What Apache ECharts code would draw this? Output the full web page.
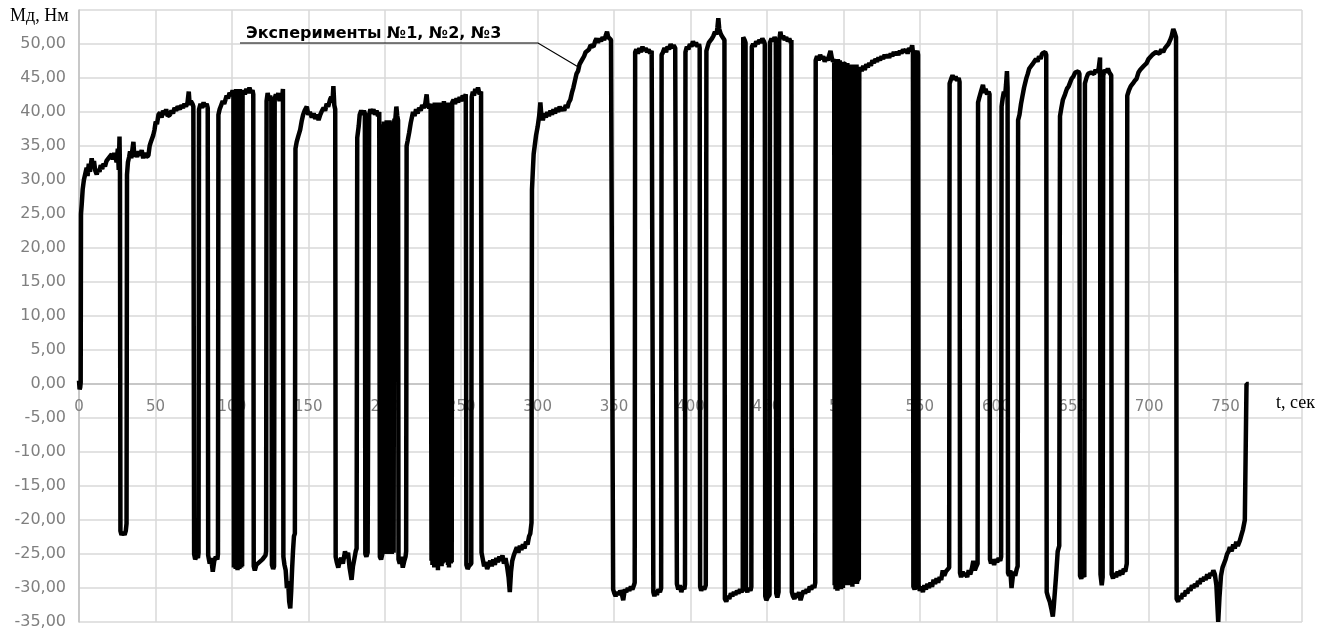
<!DOCTYPE html>
<html>
<head>
<meta charset="utf-8">
<script src="https://cdn.jsdelivr.net/npm/echarts@6/dist/echarts.min.js"></script>
<style>
  html, body { margin: 0; padding: 0; background: #ffffff; }
  #chart { width: 1336px; height: 633px; }
</style>
</head>
<body>
<div id="chart"></div>
<script>
// Torque Мд (Н·м) versus time t (s), recorded as [t, M] pairs, split by time window
const run0to150 = [
  [0,0.5],[0.4,-0.8],[0.8,-0.5],[1.1,0.2],[1.3,25],[1.8,26.5],[2.4,28.6],[3.2,30],[4,30.8],[5,31.8],[5.6,30.6],[6.4,32.4],
  [7.2,31.2],[8.3,33.2],[9,32],[9.8,32.8],[10.6,31.4],[11.6,30.8],[12.5,31.6],[13.4,31.2],[14.2,32.2],[15.2,31.6],[16,32.4],
  [17,32],[18,32.8],[19,32.6],[20,33.4],[21.4,33.8],[22.2,33],[23,34],[24,33.2],[24.6,32.6],[25.4,34.6],[26,31.5],[26.5,36.4],
  [26.8,31],[27.1,-21.6],[27.8,-22.2],[28.8,-21.8],[29.8,-22.2],[30.6,-21.6],[31.1,-20.5],[31.4,30.8],[32,32.6],[32.8,33.4],
  [33.4,34.2],[34.2,33.2],[35,34.6],[35.6,35.6],[36.2,33.4],[37,34],[38,33.4],[39,34.2],[40,33.6],[41,34.4],[42,33.2],[43,34],
  [44,33.4],[45.4,33.6],[46.2,35],[47,35.6],[48.6,36.6],[49.4,37.4],[50.2,38.6],[51,38.2],[52,39.6],[53,39.9],[54,39.2],
  [55,40.2],[56,39.6],[57,40.4],[58,39.4],[59.5,39.6],[60.5,40.2],[61.5,39.8],[62.5,40.6],[63.5,40.2],[64.5,40.8],[66,40.4],
  [67,41],[68,40.6],[69,41.2],[70,40.8],[71,41.4],[71.8,43],[72.4,41],[73.2,41.6],[74.2,41.2],[74.8,40.8],
  [75,40.6],[75.3,-25],[76,-25.8],[77,-25.2],[77.8,-25.6],[78.2,-24.8],[78.5,40.4],[79.5,41.2],[80.5,40.6],[81.5,41.4],
  [82.5,40.8],[83.5,41.2],[84.2,40.6],[84.5,-25.2],[85.5,-26.4],[86.5,-25.6],[87.5,-27.6],[88.5,-26],[89.5,-25.4],[90.5,-25.8],
  [90.9,-25],[91.2,39.6],[92,40.4],[93,41],[94,41.6],[95,41.2],[96.6,42.4],[97.5,42],[98.5,42.8],[99.5,42.4],[100.5,43.2],
  [101,42.8],[101.3,-27],[101.6,43.2],[101.9,-26.8],[102.2,43],[102.5,-27.2],[102.8,43.4],[103.1,-27],[103.4,42.8],[103.7,-27.4],
  [104,43.2],[104.3,-26.8],[104.6,43],[104.9,-27.2],[105.2,43.4],[105.5,-26.6],[105.8,42.8],[106.1,-27],[106.4,43],[106.7,-26.8],
  [107,42.8],
  [107.5,43.2],[108.5,42.6],[109.5,43.4],[110.5,42.8],[111.5,43.6],[112.5,42.8],[113.5,43.2],[114,42.6],[114.3,-26.8],[115,-27.4],
  [116,-26.6],[117,-26.8],[118,-26.2],[119,-26.4],[120,-25.8],[121,-26],[122,-25.2],[122.4,-24.6],[122.7,41.6],[123.4,42.8],
  [124.2,41.8],[125,42.4],[125.8,41.6],[126.2,-26.6],[127,-27.2],[127.6,-26.8],[128,42],[128.8,42.6],[129.6,41.8],[130.4,42.8],
  [131.2,41.6],[132,42.4],[132.8,41.8],[133.4,43.4],[133.7,-25.4],[134.4,-26.6],[135.2,-27.4],[136,-30],[136.8,-29],[137.5,-32],
  [138.2,-33],[138.8,-30.5],[139.4,-27.2],[140,-24.5],[140.6,-22.4],[141.2,-22],[141.6,34.6],[142.4,35.6],[143.4,36.4],
  [144.7,37.4],[145.6,38.6],[146.6,39.6],[147.6,40.2],[149,40.8]
];

const run150to300 = [
  [150,39.6],[151,40],[152.3,39.2],[153.5,39.8],[154.5,39],[155.6,39.6],[156.7,38.8],[157.8,39.6],[159,40.2],[160,40.6],
  [161,40.2],[162,41.2],[163,40.8],[164.2,41.8],[165,42.2],[165.8,41.4],[166.4,43.8],[167,41],[167.6,40.4],[167.9,-25.4],
  [168.6,-26.2],[169.6,-27],[170.6,-26],[171.6,-25.6],[172.6,-26.4],[174,-24.6],[175,-25.6],[176,-24.8],[177,-27],[178.3,-28.8],
  [179.2,-26.8],[180.2,-25.6],[181,-24.6],[181.6,-24.2],[182,36.2],[183,38],[183.6,39.6],[184.6,40.2],[185.6,39.6],[186.4,40.2],
  [187,39.8],[187.3,-25],[188,-25.4],[188.8,-24.8],[189.4,-25],[189.8,39.6],[190.6,40.4],[191.6,39.8],[192.6,40.4],[193.6,39.6],
  [194.6,40.2],[195.6,39.4],[196.4,40],[196.8,-25.4],[197.6,-25.8],[198.6,-24.8],
  [198.9,38.2],[199.2,-24.6],[199.5,38.6],[199.8,-25],[200.1,38.4],[200.4,-24.4],[200.7,38],[201,-24.8],[201.3,38.8],
  [201.6,-24.6],[201.9,38.2],[202.2,-25],[202.5,38.4],[202.8,-24.4],[203.1,38.8],[203.4,-24.8],[203.7,38.2],[204,-24.6],
  [204.3,38.6],[204.6,-25],[204.9,38.4],[205.2,-24.4],[205.5,38],[205.8,-24.8],[206.1,38.4],
  [206.4,39],[206.8,38.6],[207.6,40.8],[208.2,39.4],[208.7,38.8],[209,-25.8],[209.8,-26.4],[210.8,-25.4],[211.8,-27],[212.8,-26],
  [213.6,-25.4],[214,-24.6],[214.3,35],[215,35.8],[216,37],[217,38.4],[218.5,40],[219.5,39.4],[220.5,40.4],[221.5,39.8],
  [222.5,40.6],[223.5,40.2],[224.5,41],[225.5,40.6],[226.5,41.2],[227.4,42.6],[228,41],[229,40.6],[230,41.2],
  [230.3,41],[230.6,-26],[230.9,41.2],[231.2,-26.6],[231.5,40.8],[231.8,-26.4],[232.1,41],[232.4,-27],[232.7,41.4],[233,-25.8],
  [233.3,40.8],[233.6,-26.4],[233.9,41.2],[234.2,-26.8],[234.5,41.4],[234.8,-27.4],[235.1,40.8],[235.4,-26.2],[235.7,41],
  [236,-26.6],[236.3,41.4],[236.6,-26],[236.9,41.2],[237.2,-26.8],[237.5,40.6],[237.8,-26.4],[238.1,41],[238.4,-25.8],
  [238.7,41.6],[239,-25.6],[239.3,41.2],[239.6,-26.2],[239.9,40.8],[240.2,-25.8],[240.5,41.4],[240.8,-26.2],[241.1,41],
  [241.4,-26.6],[241.7,40.8],[242,-27],[242.3,41.2],[242.6,-26],[242.9,41.4],[243.2,-26.4],[243.5,41],[243.8,-26.2],[244.1,41.4],
  [245,41.8],[246,41.2],[247,42],[248,41.4],[249,42.2],[250,41.6],[251,42.4],[252,42],[253,42.6],[253.4,-26.6],[254.2,-27.2],
  [255,-26.8],[256,-27],[256.6,-26.4],[256.9,42.2],[257.6,43],[258.4,42.4],[259.2,43.4],[260,42.8],[261,43.6],[262,42.6],[263,43],
  [263.3,-24.8],[264,-25.6],[265,-26.8],[266,-26.2],[267,-27.2],[268,-26.6],[269,-26],[270,-26.8],[271,-25.8],[272,-26.6],
  [273,-25.6],[274,-26.2],[275,-25.4],[276,-26],[277,-25.2],[278,-26.4],[279,-25.6],[280,-26.8],[281,-28.4],[281.8,-30.6],
  [282.6,-27.6],[283.4,-26],[284.4,-25.2],[285.4,-24.6],[286.4,-24],[287.4,-24.8],[288.4,-23.8],[289.4,-24.4],[290.4,-23.6],
  [291.4,-24.2],[292.4,-23.2],[293.4,-23.6],[294.4,-22.4],[295.2,-22],[296,-20.4],[296.3,28.6],[296.8,31],[297.4,33.8],
  [298.2,35.2],[299,36.6]
];

const run300to450 = [
  [300,37.8],[301,39.4],[301.8,41.4],[302.4,39.6],[303.4,38.8],[304.4,39.8],[305.4,39.2],[306.4,40],[307.4,39.4],[308.4,40.2],
  [309.4,39.6],[310.4,40.4],[311.4,39.8],[312.4,40.6],[313.4,40],[314.4,40.8],[315.4,40.2],[316.4,40.6],[317.4,40.2],[318.4,41],
  [319.4,40.6],[320.4,41.4],[321.4,41.8],[322.4,42.8],[323.4,43.6],[324.4,44.6],[325.4,45.6],[326.4,46],[327.4,47],[328.4,46.8],
  [329.4,47.8],[330.4,48.2],[331.4,48.8],[332.4,48.6],[333.6,49.2],[334.6,49.8],[335.6,50],[336.6,49.6],[337.6,50.4],[338.5,50.8],
  [339.5,50.2],[340.5,50.8],[341.5,50.4],[342.5,51],[343.5,50.6],[344.5,51.2],[345.4,51.8],[346.2,51],[347,50.8],[348,50.6],
  [349,50.4],[349.4,-30.2],[350.2,-30.8],[351,-31.2],[352,-30.6],[353,-31],[354,-30.4],[355,-30.8],[356,-31.8],[357,-30.2],
  [358,-30.6],[359,-30],[360,-30.4],[361,-29.8],[362,-30.2],[363,-29.6],[363.5,-29.2],[363.8,48.8],[364.6,49.2],[365.6,48.6],
  [366.6,49.4],[367.6,48.8],[368.6,49.6],[369.6,49],[370.6,49.4],[371.6,48.8],[372.6,49.2],[373.6,48.6],[374.6,49],[375.4,48.8],
  [375.7,-30.6],[376.4,-31.2],[377.2,-30.4],[378,-31],[379,-30.2],[380,-30.6],[380.8,-30],[381.1,48.4],[382,48.8],[383,49.4],
  [384,48.8],[385,49.6],[386,49.2],[387,50],[388,49.4],[389,49.8],[390,49.4],[390.8,49.6],[391.1,-29.4],[392,-30.2],[393,-29.6],
  [394,-30.6],[395,-29.8],[396,-30.2],[396.4,-29.4],[396.7,48.8],[397.6,49.6],[398.6,49.2],[399.6,50],[400.6,49.6],[401.6,50.4],
  [402.6,49.8],[403.6,50.2],[404.6,49.6],[405.6,50],[406,49.4],[406.3,-29.8],[407,-30.4],[408,-29.8],[409,-30.2],[410,-29.6],
  [410.4,49],[411.2,49.6],[412,50.2],[413,50],[414,50.8],[415,51.2],[416,51.8],[417,51.4],[417.6,52.4],[418.2,53.8],[418.8,52.2],
  [419.6,51.6],[420.4,51.2],[421.4,51],[422.2,50.6],[422.5,-31.6],[423.4,-32],[424.4,-31.2],[425.4,-31.6],[426.4,-30.8],
  [427.4,-31.2],[428.4,-30.6],[429.4,-31],[430.4,-30.4],[431.4,-30.8],[432.4,-30.2],[433.4,-30.6],[434.2,-30.2],[434.5,51],
  [435.4,50.6],[436,50.2],[436.3,-30.2],[437.2,-30.6],[438.2,-30],[439.2,-30.4],[439.8,-29.8],[440.1,49.6],[441,50],[442,49.6],
  [443,50.4],[444,50],[445,50.6],[446,50.2],[447,50.8],[448,50.4],[448.6,50],[448.9,-31.2],[449.6,-31.8]
];

const run450to600 = [
  [450.4,-31.4],[451.2,-31.6],[451.7,-31],[452,50.2],[453,50.8],[454,50.4],[455,51],[455.8,50.6],[456.1,-30.8],[456.8,-31.4],
  [457.6,-30.6],[458,50.4],[458.8,51.8],[459.6,50.8],[460.6,51.2],[461.6,50.6],[462.6,51],[463.6,50.4],[464.6,50.8],[465.6,50.2],
  [466,50.6],[466.3,-30.6],[467,-31.2],[468,-31.6],[469,-30.8],[470,-31.4],[471,-30.6],[472,-31.8],[473,-31],[474,-30.4],
  [475,-30.8],[476,-30.2],[477,-30.6],[478,-29.8],[479,-30.2],[480,-29.6],[481,-30],[481.6,-29.2],[481.9,47.6],[482.8,48.2],
  [483.8,47.6],[484.8,48.4],[485.8,47.8],[486.8,48.2],[487.8,47.4],[488.8,48],[489.8,47.6],[490.8,48.4],[491.6,49],[492.4,48],
  [493.2,47.4],[494,47.8],
  [494.3,-29.6],[494.6,47.6],[494.9,-30.2],[495.2,47.2],[495.5,-29.8],[495.8,47.4],[496.1,-30.4],[496.4,47.8],[496.7,-30],
  [497,47],[497.3,-29.4],[497.6,47.6],[497.9,-29.6],[498.2,46.8],[498.5,-30.2],[498.8,47.2],[499.1,-29.8],[499.4,47.4],
  [499.7,-30],[500,47.2],[500.4,47],
  [501.4,47],[501.7,-29.2],[502,46.8],[502.3,-29.6],[502.6,47.2],[502.9,-29],[503.2,46.6],[503.5,-29.6],[503.8,47],[504.1,-29.4],
  [504.4,46.8],[504.7,-29],[505,46.4],[505.3,-29.2],[505.6,46.6],[505.9,-29.8],[506.2,47],[506.5,-29],[506.8,46.4],[507.1,-29.4],
  [507.4,46.8],[507.7,-29.2],[508,46.6],[508.3,-28.8],[508.6,47],[508.9,-29.4],[509.2,46.6],[509.5,-29],[509.8,46.2],[510.1,-28.8],
  [510.4,45.8],
  [511.2,46.6],[512,46],[513,46.8],[514,46.2],[515,47],[516,46.6],[517,47.2],[518,46.8],[519,47.6],[520,47.2],[521,47.8],
  [522,47.4],[523,48],[524,47.6],[525,48.2],[526,47.8],[527,48.4],[528,48],[529,48.4],[530,48],[531,48.6],[532,48.2],[533,48.8],
  [534,48.4],[535,48.8],[536,48.4],[537,49],[538,48.6],[539,49.2],[540,48.8],[541,49.2],[542,48.6],[543,49.4],[544,49],
  [545,49.8],[545.5,48.8],[545.8,-29.8],[546.6,-30.2],[547.4,-29.6],[547.8,48.6],[548.4,49],[548.9,48.4],[549.2,-29.6],
  [550,-30.4],[551,-29.8],[552,-30.6],[553,-29.6],[554,-30.2],[555,-29.4],[556,-30],[557,-29.2],[558,-29.8],[559,-28.8],
  [560,-29.4],[561,-28.6],[562,-29.2],[563,-28.4],[564,-28.8],[565,-27.4],[566,-28.2],[567,-27.6],[568,-27.8],[569.2,-27],
  [569.5,44.2],[570.4,44.8],[571.4,45.4],[572.4,44.8],[573.4,45.2],[574.4,44.6],[575.4,45],[576,44.4],[576.3,-27.8],[577,-28.4],
  [578,-27.6],[579,-28.2],[580,-27.8],[581,-28.4],[582,-27.4],[583,-28],[584,-27.2],[585,-26],[586,-27.4],[587,-26.8],
  [587.8,-26.4],[588.1,41.4],[589,42.2],[590,43],[591.3,44],[592.2,42.8],[593,43.4],[594,42.6],[595,43],[595.6,42.6],
  [595.9,-25.8],[596.6,-26.4],[597.6,-25.8],[598.6,-26.6],[599.6,-25.8]
];

const run600to766 = [
  [600.6,-26.2],[601.6,-25.6],[602.6,-26],[603.2,-25.4],[603.5,40.8],[604.2,42],[605,43],[605.8,42.4],[606.4,44],[607,46],
  [607.4,43.6],[607.7,-27.8],[608.4,-28.2],[609.2,-27.4],[610,-30],[610.8,-28.4],[611.6,-27.6],[612.4,-28.2],[613.4,-27.2],
  [614,-26.8],[614.3,38.8],[615.2,39.6],[616.2,41.2],[617.2,42.4],[618.2,43.6],[619.6,44.9],[620.6,45.6],[621.6,46.4],
  [622.6,46.2],[623.6,47],[624.6,46.8],[626,47.8],[627,47.4],[628,48.2],[629,47.8],[630,48.6],[631,48.4],[632,48.8],[632.7,48.4],
  [633,-30.6],[634,-31.4],[635,-32],[636,-33],[637,-34.2],[637.6,-32.8],[638.4,-30.4],[639,-28.6],[639.5,-27],[640.2,-24.6],
  [641.2,-23.8],[641.7,39.4],[642.6,40.6],[643.6,41.8],[645,42.6],[646.2,43.4],[647.4,43.8],[649.3,44.9],[650.4,45.2],
  [651.6,45.8],[652.6,45.6],[653.7,46],[654.4,45.6],[654.8,-28.2],[655.6,-28.6],[656.6,-28],[657.6,-28.4],[658,44.2],[659,45],
  [660,45.6],[661,45.4],[662,45.8],[663,46],[664,45.6],[665,46.2],[666,45.8],[667,46.4],[667.9,48],[668.2,-28],[669,-29.6],
  [669.6,-28.4],[670,45.4],[671,46.2],[672,45.8],[673,46.4],[674,45.8],[675.2,45.4],[675.5,-28],[676.4,-28.6],[677.4,-27.8],
  [678.4,-28.4],[679.4,-27.6],[680.4,-28.2],[681.4,-27.4],[682.4,-28],[683.4,-27.2],[684.4,-27.6],[685.4,-26.4],[685.7,42.4],
  [686.8,43.2],[688,43.8],[689.4,44.2],[690.6,44.6],[691.8,44.9],[693,45.8],[694.2,46.2],[695.4,46],[696.6,46.8],[698.4,47.2],
  [699.6,47.8],[700.8,48],[702,48.4],[703.2,48.2],[704.4,48.8],[705.6,49],[706.8,48.6],[708,49.2],[709.2,48.8],[710.4,49.4],
  [711.4,49.2],[712.6,50],[713.8,50.6],[714.8,51.2],[715.8,52.2],[716.8,51.6],[717.6,51],[718,-31.6],[719,-32],[720,-31.2],
  [721,-31.6],[722,-30.8],[723,-31.2],[724,-30.4],[725,-30.8],[726,-30],[727,-30.4],[728,-29.6],[729,-30],[730,-29.4],
  [731,-29.8],[732,-29],[733,-29.4],[734,-28.6],[735,-29],[736,-28.4],[737,-28.8],[738,-28],[739,-28.6],[740,-27.8],
  [741,-28.2],[742,-27.4],[743,-28],[744,-29.6],[745.2,-35],[746,-31.4],[747,-28.2],[748,-27],[749,-26.4],[750,-25.8],
  [751,-25],[752,-24.6],[752.8,-24],[754,-24.6],[755,-23.6],[756,-24.2],[757,-23.2],[758,-23.8],[759.4,-23],[760.4,-22.2],
  [761.4,-21.4],[762.6,-20],[763.4,-19.8],[763.7,0],[765.2,0]
];

// Intervals of rapid switching: [t start, t end, lower M, upper M]
const switchingBursts = [
  [101.0, 106.7, -27.0, 43.0],
  [198.9, 206.1, -24.6, 38.4],
  [230.3, 244.1, -26.2, 41.0],
  [494.0, 500.0, -29.8, 47.2],
  [501.4, 510.4, -29.2, 46.6]
];

// Axis ranges and tick steps
const tRange = [0, 800];
const tStep = 50;
const mRange = [-35, 55];
const mStep = 5;

const torque = [].concat(run0to150, run150to300, run300to450, run450to600, run600to766);

// Plot box in pixels; the time axis is drawn through M = 0
const plotTop = 10, plotBottom = 11, chartH = 633;
const plotH = chartH - plotTop - plotBottom;
const zeroFromBottom = plotH * (0 - mRange[0]) / (mRange[1] - mRange[0]);

const chart = echarts.init(document.getElementById('chart'), null, { renderer: 'canvas' });

const gridGrey = '#d9d9d9';
const labelGrey = '#7f7f7f';

chart.setOption({
  animation: false,
  backgroundColor: '#ffffff',
  grid: { left: 79, right: 34, top: plotTop, bottom: plotBottom, containLabel: false, outerBoundsMode: 'none' },
  xAxis: {
    type: 'value',
    min: tRange[0], max: tRange[1], interval: tStep,
    position: 'bottom',
    offset: -zeroFromBottom,
    axisLine: { show: true, onZero: false, lineStyle: { color: '#bfbfbf', width: 1.5 } },
    axisTick: { show: false },
    axisLabel: {
      margin: 16,
      color: labelGrey,
      fontFamily: 'DejaVu Sans',
      fontSize: 15,
      formatter: v => (v === tRange[1] ? '' : String(v))
    },
    splitLine: { show: true, lineStyle: { color: gridGrey, width: 1.5 } }
  },
  yAxis: {
    type: 'value',
    min: mRange[0], max: mRange[1], interval: mStep,
    axisLine: { show: true, onZero: false, lineStyle: { color: '#bfbfbf', width: 1.5 } },
    axisTick: { show: false },
    axisLabel: {
      margin: 13,
      color: labelGrey,
      fontFamily: 'DejaVu Sans',
      fontSize: 16,
      formatter: v => (v === mRange[1] ? '' : v.toFixed(2).replace('.', ','))
    },
    splitLine: { show: true, lineStyle: { color: gridGrey, width: 1.5 } }
  },
  series: [
    {
      name: 'Эксперименты №1, №2, №3',
      type: 'line',
      data: torque,
      showSymbol: false,
      symbol: 'none',
      sampling: null,
      lineStyle: { color: '#000000', width: 4.5, join: 'bevel' },
      z: 5
    },
    {
      // solid fill across the bursts of rapid switching
      type: 'custom',
      data: switchingBursts,
      encode: { x: [0, 1], y: [2, 3] },
      z: 6,
      renderItem: (params, api) => {
        const a = api.coord([api.value(0), api.value(3)]);
        const b = api.coord([api.value(1), api.value(2)]);
        return {
          type: 'rect',
          shape: { x: a[0], y: a[1], width: b[0] - a[0], height: b[1] - a[1] },
          style: { fill: '#000000' }
        };
      }
    }
  ],
  graphic: [
    {
      type: 'text', left: 10, top: 7, z: 10,
      style: { text: 'Мд, Нм', fill: '#000', font: '18px "Liberation Serif"' }
    },
    {
      type: 'text', left: 1276, top: 394, z: 10,
      style: { text: 't, сек', fill: '#000', font: '18px "Liberation Serif"' }
    },
    {
      type: 'text', x: 246, y: 34, z: 10,
      style: {
        text: 'Эксперименты №1, №2, №3', fill: '#000',
        font: 'bold 16px "DejaVu Sans"', verticalAlign: 'middle', align: 'left'
      }
    },
    {
      type: 'polyline', z: 10,
      shape: { points: [[240, 43], [538, 43], [580, 68]] },
      style: { stroke: '#000', lineWidth: 1.2, fill: null }
    }
  ]
});
</script>
</body>
</html>
